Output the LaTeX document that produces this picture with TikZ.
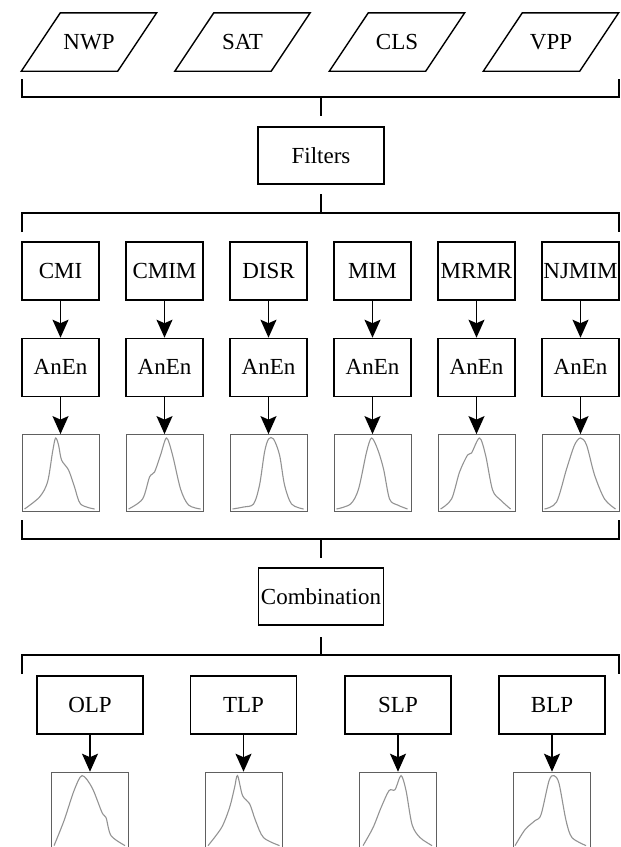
\documentclass[tikz,border=0pt]{standalone}
\usepackage{fontspec}
\setmainfont{Liberation Serif}
\usepackage{tikz}
\usetikzlibrary{arrows.meta,positioning}

% slanted input frame round a named node
\newcommand{\slantframe}[1]{%
  \draw[line width=1.4pt] ([xshift=-19.5pt]#1.south west) -- ([xshift=-19.5pt]#1.south east)
    -- ([xshift=19.5pt]#1.north east) -- ([xshift=19.5pt]#1.north west) -- cycle;}

\begin{document}
\begin{tikzpicture}[
        x=1pt, y=1pt,
        font=\fontsize{23}{27}\selectfont,
        box/.style={draw, line width=1.4pt, minimum width=77pt, minimum height=58pt, inner sep=1pt},
        source/.style={minimum width=96pt, minimum height=58pt, inner sep=0pt},
        plotbox/.style={draw=gray!75!black, line width=0.9pt, minimum width=77pt, minimum height=77pt, inner sep=0pt},
        curve/.style={gray!85, line width=1.1pt},
        bracket/.style={line width=1.4pt},
        arrow/.style={-{Stealth[length=18pt,width=16pt,inset=3.5pt]}, line width=1.4pt},
        node distance=37pt
    ]
    \useasboundingbox (0,0) rectangle (621,-847);

    % Input Nodes
    \node[source] (nwp) at (89,-42) {NWP};
    \node[source] (sat) at (242.5,-42) {SAT};
    \node[source] (cls) at (397,-42) {CLS};
    \node[source] (vpp) at (551,-42) {VPP};
    \slantframe{nwp}
    \slantframe{sat}
    \slantframe{cls}
    \slantframe{vpp}

    % Input Bracket
    \coordinate (in-l) at (22,-79);
    \coordinate (in-r) at (619,-79);
    \coordinate (in-m) at (321,-97);
    \coordinate (in-s) at (321,-116);
    \draw[bracket] (in-l) |- (in-m) -| (in-r);
    \draw[bracket] (in-m) -- (in-s);

    % Filters Node
    \node[box, minimum width=126pt, minimum height=57pt] (filters) at (321,-155.5) {Filters};

    % Filters Bracket
    \coordinate (flt-s) at (321,-194);
    \coordinate (flt-m) at (321,-213);
    \coordinate (flt-l) at (22,-232);
    \coordinate (flt-r) at (619,-232);
    \draw[bracket] (flt-s) -- (flt-m);
    \draw[bracket] (flt-l) |- (flt-m) -| (flt-r);

    % Selection Nodes
    \node[box] (cmi) at (60.5,-271) {CMI};
    \node[box] (cmim) at (164.5,-271) {CMIM};
    \node[box] (disr) at (268.5,-271) {DISR};
    \node[box] (mim) at (372.5,-271) {MIM};
    \node[box] (mrmr) at (476.5,-271) {MRMR};
    \node[box] (njmim) at (580.5,-271) {NJMIM};

    % AnEn Nodes
    \node[box, below=of cmi] (an-cmi) {AnEn};
    \node[box, below=of cmim] (an-cmim) {AnEn};
    \node[box, below=of disr] (an-disr) {AnEn};
    \node[box, below=of mim] (an-mim) {AnEn};
    \node[box, below=of mrmr] (an-mrmr) {AnEn};
    \node[box, below=of njmim] (an-njmim) {AnEn};

    % Density Nodes
    \node[plotbox, below=of an-cmi] (pd-cmi) {};
    \node[plotbox, below=of an-cmim] (pd-cmim) {};
    \node[plotbox, below=of an-disr] (pd-disr) {};
    \node[plotbox, below=of an-mim] (pd-mim) {};
    \node[plotbox, below=of an-mrmr] (pd-mrmr) {};
    \node[plotbox, below=of an-njmim] (pd-njmim) {};

    % Arrows
    \draw[arrow] (cmi.south) -- (an-cmi.north);
    \draw[arrow] (cmim.south) -- (an-cmim.north);
    \draw[arrow] (disr.south) -- (an-disr.north);
    \draw[arrow] (mim.south) -- (an-mim.north);
    \draw[arrow] (mrmr.south) -- (an-mrmr.north);
    \draw[arrow] (njmim.south) -- (an-njmim.north);
    \draw[arrow] (an-cmi.south) -- (pd-cmi.north);
    \draw[arrow] (an-cmim.south) -- (pd-cmim.north);
    \draw[arrow] (an-disr.south) -- (pd-disr.north);
    \draw[arrow] (an-mim.south) -- (pd-mim.north);
    \draw[arrow] (an-mrmr.south) -- (pd-mrmr.north);
    \draw[arrow] (an-njmim.south) -- (pd-njmim.north);

    % Density Curves
    \draw[curve, shift={(pd-cmi.south west)}] plot[smooth] coordinates {(3,3) (18,15) (26,30) (31,60) (34,74) (37,67) (40,52) (47,42) (53,25) (59,8) (73,3)};
    \draw[curve, shift={(pd-cmim.south west)}] plot[smooth] coordinates {(3,3) (17,13) (24,35) (29,40) (35,57) (41,74) (47,57) (55,23) (63,7) (75,3)};
    \draw[curve, shift={(pd-disr.south west)}] plot[smooth] coordinates {(3,3) (14,5) (24,8) (30,27) (35,60) (39,73) (44,73) (50,57) (55,27) (62,8) (74,3)};
    \draw[curve, shift={(pd-mim.south west)}] plot[smooth] coordinates {(3,3) (17,8) (25,23) (33,60) (38,74) (44,63) (50,43) (56,13) (64,7) (74,3)};
    \draw[curve, shift={(pd-mrmr.south west)}] plot[smooth] coordinates {(3,3) (14,13) (22,40) (30,57) (34,59) (42,74) (48,57) (55,22) (63,12) (73,3)};
    \draw[curve, shift={(pd-njmim.south west)}] plot[smooth] coordinates {(3,3) (15,10) (25,43) (33,67) (39,74) (45,67) (53,37) (63,13) (74,3)};

    % Density Bracket
    \coordinate (pd-l) at (22,-520);
    \coordinate (pd-r) at (619,-520);
    \coordinate (pd-m) at (321,-539);
    \coordinate (pd-s) at (321,-558);
    \draw[bracket] (pd-l) |- (pd-m) -| (pd-r);
    \draw[bracket] (pd-m) -- (pd-s);

    % Combination Node
    \node[box, minimum width=125pt, minimum height=57pt] (comb) at (321,-596.5) {Combination};

    % Combination Bracket
    \coordinate (cmb-s) at (321,-637);
    \coordinate (cmb-m) at (321,-655);
    \coordinate (cmb-l) at (22,-674);
    \coordinate (cmb-r) at (619,-674);
    \draw[bracket] (cmb-s) -- (cmb-m);
    \draw[bracket] (cmb-l) |- (cmb-m) -| (cmb-r);

    % Pool Nodes
    \node[box, minimum width=106pt] (olp) at (90,-705) {OLP};
    \node[box, minimum width=106pt] (tlp) at (243.5,-705) {TLP};
    \node[box, minimum width=106pt] (slp) at (398,-705) {SLP};
    \node[box, minimum width=106pt] (blp) at (552,-705) {BLP};

    \node[plotbox, below=of olp] (pd-olp) {};
    \node[plotbox, below=of tlp] (pd-tlp) {};
    \node[plotbox, below=of slp] (pd-slp) {};
    \node[plotbox, below=of blp] (pd-blp) {};

    \draw[arrow] (olp.south) -- (pd-olp.north);
    \draw[arrow] (tlp.south) -- (pd-tlp.north);
    \draw[arrow] (slp.south) -- (pd-slp.north);
    \draw[arrow] (blp.south) -- (pd-blp.north);

    \draw[curve, shift={(pd-olp.south west)}] plot[smooth] coordinates {(3,4) (13,29) (23,59) (31,74) (41,62) (51,37) (55,32) (60,14) (74,4)};
    \draw[curve, shift={(pd-tlp.south west)}] plot[smooth] coordinates {(3.5,4) (17,22) (25,42) (30,62) (33,74) (38,54) (45,46) (51,29) (59,12) (75,4)};
    \draw[curve, shift={(pd-slp.south west)}] plot[smooth] coordinates {(4,4) (14,22) (22,42) (30,59) (36,60) (42,74) (47,59) (53,25) (61,12) (73,4)};
    \draw[curve, shift={(pd-blp.south west)}] plot[smooth] coordinates {(2,4) (12,20) (22,29) (28,35) (36,69) (41,74) (46,66) (53,29) (59,12) (73,4)};

    \end{tikzpicture}
\end{document}
